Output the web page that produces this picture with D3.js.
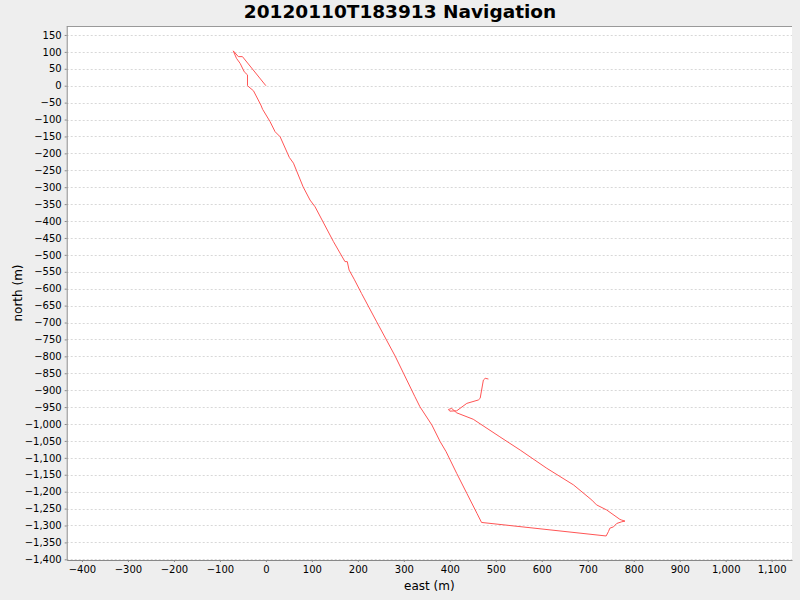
<!DOCTYPE html>
<html>
<head>
<meta charset="utf-8">
<script src="https://cdn.jsdelivr.net/npm/d3@7"></script>
<style>
  body { margin: 0; background: #eeeeee; }
  svg { display: block; font-family: "DejaVu Sans", sans-serif; }
</style>
</head>
<body>
<div id="chart"></div>
<script>
// track in metres, east / north
const east = [0, -51, -60, -71, -64, -56, -47, -40, -40, -27, -11, -7, 9, 20, 31, 51, 60, 81, 96, 107,
  147, 172, 177, 181, 192, 208, 241, 281, 324, 335, 361, 379, 392, 415, 437, 459, 469,
  740, 745, 748, 756, 763, 774, 781, 774, 770, 741, 719, 709, 669, 611, 553, 509, 451, 415,
  404, 397, 400, 415, 437, 462, 466, 473, 477, 484];
const north = [0, 86, 86, 103, 81, 66, 41, 32, 0, -15, -57, -70, -106, -136, -151, -212, -229, -299, -338, -358,
  -461, -520, -520, -545, -572, -614, -698, -799, -919, -949, -1003, -1052, -1082, -1146, -1205, -1264, -1291,
  -1331, -1318, -1308, -1304, -1294, -1289, -1287, -1284, -1282, -1254, -1239, -1225, -1180, -1131, -1077, -1038, -986, -967,
  -954, -957, -962, -961, -939, -929, -924, -870, -865, -867];

const xTicks = [-400, -300, -200, -100, 0, 100, 200, 300, 400, 500, 600, 700, 800, 900, 1000, 1100];
const yTicks = d3.range(150, -1401, -50);

const W = 800, H = 600;
const plotL = 66.7, plotR = 792, plotT = 26, plotB = 560;

const svg = d3.select("#chart").append("svg")
  .attr("width", W)
  .attr("height", H);

svg.append("rect").attr("width", W).attr("height", H).attr("fill", "#eeeeee");

const x = d3.scaleLinear().domain([-433.2, 1144.2]).range([plotL, plotR]);
const y = d3.scaleLinear().domain([-1402, 176.5]).range([plotB, plotT]);

svg.append("rect")
  .attr("x", plotL).attr("y", plotT)
  .attr("width", plotR - plotL).attr("height", plotB - plotT)
  .attr("fill", "#ffffff");

// horizontal grid
svg.append("g")
  .selectAll("line")
  .data(yTicks)
  .enter()
  .append("line")
  .attr("x1", plotL).attr("x2", plotR)
  .attr("y1", d => Math.round(y(d)) + 0.5).attr("y2", d => Math.round(y(d)) + 0.5)
  .attr("stroke", "#d8d8d8")
  .attr("stroke-dasharray", "2,2");

// top outline
svg.append("line")
  .attr("x1", plotL).attr("x2", plotR)
  .attr("y1", plotT + 0.5).attr("y2", plotT + 0.5)
  .attr("stroke", "#999999");

const fmt = d3.format(",");

const xAxis = svg.append("g")
  .attr("transform", "translate(0," + plotB + ")")
  .call(d3.axisBottom(x).tickValues(xTicks).tickFormat(fmt).tickSizeInner(2).tickSizeOuter(0).tickPadding(4));

const yAxis = svg.append("g")
  .attr("transform", "translate(" + plotL + ",0)")
  .call(d3.axisLeft(y).tickValues(yTicks).tickFormat(fmt).tickSizeInner(2).tickSizeOuter(0).tickPadding(3));

[xAxis, yAxis].forEach(g => {
  g.select(".domain").attr("stroke", "#888888");
  g.selectAll(".tick line").attr("stroke", "#888888");
  g.selectAll(".tick text")
    .attr("fill", "#000000")
    .style("font-size", "10px")
    .style("font-family", "DejaVu Sans, sans-serif");
});

const pts = east.map((e, i) => [e, north[i]]);

const line = d3.line()
  .x(d => x(d[0]))
  .y(d => y(d[1]));

svg.append("path")
  .datum(pts)
  .attr("d", line)
  .attr("fill", "none")
  .attr("stroke", "#ff5555")
  .attr("stroke-width", 1);

svg.append("text")
  .attr("x", W / 2).attr("y", 18)
  .attr("text-anchor", "middle")
  .style("font-size", "18.5px")
  .style("font-weight", "bold")
  .text("20120110T183913 Navigation");

svg.append("text")
  .attr("x", (plotL + plotR) / 2).attr("y", 590)
  .attr("text-anchor", "middle")
  .style("font-size", "12px")
  .text("east (m)");

svg.append("text")
  .attr("transform", "translate(22," + (plotT + plotB) / 2 + ") rotate(-90)")
  .attr("text-anchor", "middle")
  .style("font-size", "12px")
  .text("north (m)");
</script>
</body>
</html>
